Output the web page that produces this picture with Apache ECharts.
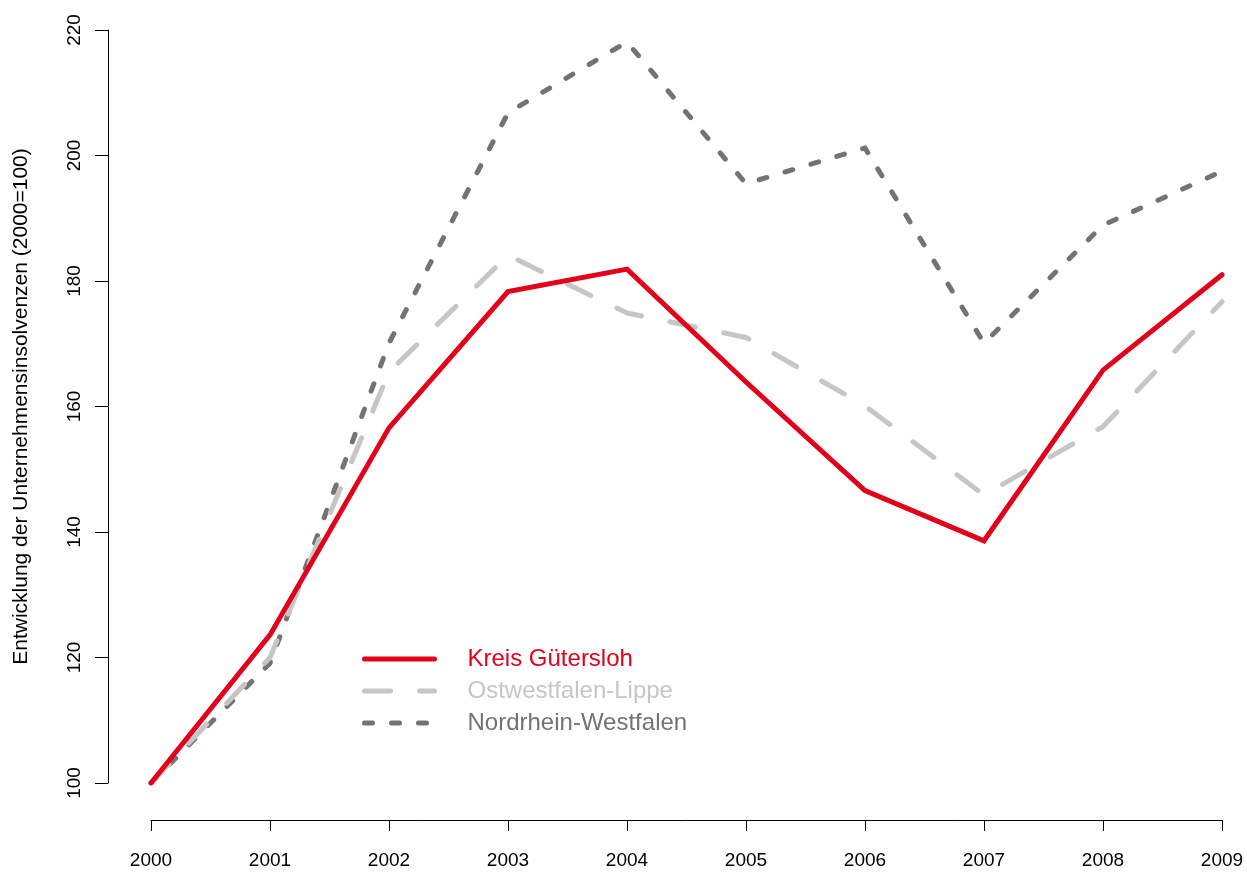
<!DOCTYPE html>
<html>
<head>
<meta charset="utf-8">
<script src="https://cdn.jsdelivr.net/npm/echarts@6/dist/echarts.min.js"></script>
<style>
  html, body { margin: 0; padding: 0; background: #fff; }
  #chart { width: 1247px; height: 872px; }
</style>
</head>
<body>
<div id="chart"></div>
<script>
// Insolvency index, 2000 = 100
const years = [2000, 2001, 2002, 2003, 2004, 2005, 2006, 2007, 2008, 2009];
const guetersloh = [100, 123.6, 156.6, 178.3, 181.9, 163.9, 146.6, 138.6, 165.8, 181.0];
const owl = [100, 120.0, 165.5, 184.1, 174.9, 171.0, 160.1, 145.9, 156.8, 176.7];
const nrw = [100, 119.1, 170.1, 206.8, 218.1, 195.5, 201.2, 170.1, 188.9, 197.5];
const seriesNames = ['Kreis Gütersloh', 'Ostwestfalen-Lippe', 'Nordrhein-Westfalen'];
const yTicks = [100, 120, 140, 160, 180, 200, 220];

const colors = ['#E2001A', '#C6C6C6', '#737373'];
const dashes = ['solid', [26, 29], [8, 19]];

const pairs = arr => years.map((y, i) => [y, arr[i]]);
const font = 'Liberation Sans, Arial, sans-serif';

const chart = echarts.init(document.getElementById('chart'));
chart.setOption({
  backgroundColor: '#ffffff',
  animation: false,
  grid: { left: 151, right: 25, top: 30, bottom: 89 },
  xAxis: {
    type: 'value',
    min: years[0],
    max: years[years.length - 1],
    interval: 1,
    offset: 37,
    splitLine: { show: false },
    axisLine: { show: true, lineStyle: { color: '#000', width: 1 } },
    axisTick: { show: true, length: 11, lineStyle: { color: '#000', width: 1 } },
    axisLabel: { color: '#000', fontSize: 19, fontFamily: font, margin: 31, formatter: v => String(v) }
  },
  yAxis: {
    type: 'value',
    min: yTicks[0],
    max: yTicks[yTicks.length - 1],
    interval: 20,
    offset: 43,
    name: 'Entwicklung der Unternehmensinsolvenzen (2000=100)',
    nameLocation: 'middle',
    nameRotate: 90,
    nameGap: 76,
    nameTextStyle: { color: '#000', fontSize: 21, fontFamily: font },
    splitLine: { show: false },
    axisLine: { show: true, lineStyle: { color: '#000', width: 1 } },
    axisTick: { show: true, length: 13, lineStyle: { color: '#000', width: 1 } },
    axisLabel: { color: '#000', fontSize: 19, fontFamily: font, rotate: 90, margin: 24 }
  },
  legend: {
    orient: 'vertical',
    left: 357,
    top: 642,
    itemWidth: 70,
    itemHeight: 14,
    itemGap: 8,
    selectedMode: false,
    itemStyle: { opacity: 0 },
    textStyle: { fontSize: 24, fontFamily: font, padding: [0, 0, 0, 28] },
    data: seriesNames.map((n, i) => ({
      name: n,
      textStyle: { color: colors[i] },
      lineStyle: { color: colors[i], width: 5, type: dashes[i], cap: 'round' }
    }))
  },
  series: [
    {
      name: seriesNames[2], type: 'line', data: pairs(nrw), symbol: 'none', z: 1,
      lineStyle: { color: colors[2], width: 5, type: dashes[2], cap: 'round', join: 'round' },
      itemStyle: { color: colors[2] }
    },
    {
      name: seriesNames[1], type: 'line', data: pairs(owl), symbol: 'none', z: 2,
      lineStyle: { color: colors[1], width: 5, type: dashes[1], cap: 'round', join: 'round' },
      itemStyle: { color: colors[1] }
    },
    {
      name: seriesNames[0], type: 'line', data: pairs(guetersloh), symbol: 'none', z: 3,
      lineStyle: { color: colors[0], width: 5, cap: 'round', join: 'miter' },
      itemStyle: { color: colors[0] }
    }
  ]
});
</script>
</body>
</html>
